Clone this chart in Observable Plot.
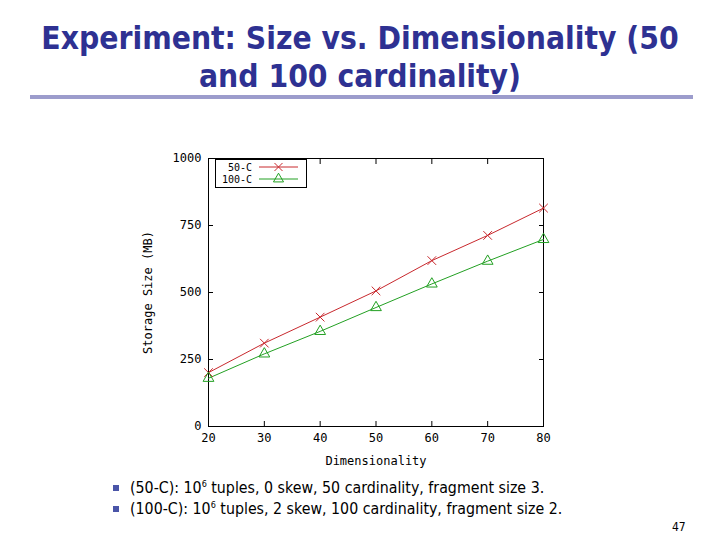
<!DOCTYPE html>
<html><head><meta charset="utf-8">
<script src="https://cdn.jsdelivr.net/npm/d3@7"></script>
<script src="https://cdn.jsdelivr.net/npm/@observablehq/plot@0.6"></script>
<style>
body{margin:0;width:720px;height:540px;background:#fff;position:relative;overflow:hidden;font-family:"DejaVu Sans Condensed","DejaVu Sans",sans-serif}
#title{position:absolute;left:0;top:19px;width:720px;text-align:center;color:#2E3192;font-weight:bold;font-size:31.5px;line-height:38px}
#rule{position:absolute;left:30px;top:95px;width:663px;height:4px;background:#9c9ccc}
#chart{position:absolute;left:130px;top:145px}
#legend{position:absolute;left:215px;top:159px}
.bullets{position:absolute;left:113px;top:477px;font-size:15.8px;color:#000;line-height:21px}
.bullets div{position:relative;padding-left:17px}
.bullets div::before{content:"";position:absolute;left:0;top:8px;width:6px;height:6px;background:#4a55a8}
#page{position:absolute;left:672px;top:520px;font-size:12px;color:#000}
sup{font-size:9px;vertical-align:6px;line-height:0}
</style></head>
<body>
<div id="title">Experiment: Size vs. Dimensionality (50<br>and 100 cardinality)</div>
<div id="rule"></div>
<div id="chart"></div>
<svg id="legend" width="93" height="30"></svg>
<div class="bullets">
<div>(50-C): 10<sup>6</sup> tuples, 0 skew, 50 cardinality, fragment size 3.</div>
<div>(100-C): 10<sup>6</sup> tuples, 2 skew, 100 cardinality, fragment size 2.</div>
</div>
<div id="page">47</div>
<script>
const dims = [20, 30, 40, 50, 60, 70, 80];
const size50 = [201, 311, 408, 506, 619, 713, 815];
const size100 = [180, 271, 355, 444, 532, 617, 698];
const seriesNames = ["50-C", "100-C"];
const seriesColors = ["#c8282d", "#22a022"];
const seriesSymbols = ["times", "triangle"];
const xTicks = [20, 30, 40, 50, 60, 70, 80];
const yTicks = [0, 250, 500, 750, 1000];

const rows = [];
dims.forEach((d, i) => {
  rows.push({dim: d, size: size50[i], series: seriesNames[0]});
});
dims.forEach((d, i) => {
  rows.push({dim: d, size: size100[i], series: seriesNames[1]});
});

const blank = () => "";
const chart = Plot.plot({
  width: 430, height: 330,
  marginLeft: 78, marginRight: 17, marginTop: 13, marginBottom: 49,
  style: {fontFamily: "'DejaVu Sans Mono', monospace", fontSize: "12px", color: "#000", background: "transparent"},
  x: {domain: [20, 80]},
  y: {domain: [0, 1000]},
  color: {domain: seriesNames, range: seriesColors},
  symbol: {domain: seriesNames, range: seriesSymbols},
  marks: [
    Plot.frame({stroke: "#000"}),
    Plot.axisX(xTicks, {tickSize: 0, tickPadding: 7, tickFormat: d3.format("d"), label: "Dimensionality", labelAnchor: "center", labelOffset: 38, labelArrow: "none"}),
    Plot.axisX(xTicks, {tickSize: -5, tickFormat: blank, label: null}),
    Plot.axisX(xTicks, {anchor: "top", tickSize: -5, tickFormat: blank, label: null}),
    Plot.axisY(yTicks, {tickSize: 0, tickPadding: 7, tickFormat: d3.format("d"), label: "Storage Size (MB)", labelAnchor: "center", labelOffset: 65, labelArrow: "none"}),
    Plot.axisY(yTicks, {tickSize: -5, tickFormat: blank, label: null}),
    Plot.axisY(yTicks, {anchor: "right", tickSize: -5, tickFormat: blank, label: null}),
    Plot.line(rows, {x: "dim", y: "size", stroke: "series", z: "series", strokeWidth: 1}),
    Plot.dot(rows, {x: "dim", y: "size", stroke: "series", symbol: "series", r: 4, strokeWidth: 1})
  ]
});
document.getElementById("chart").appendChild(chart);

// legend
const leg = d3.select("#legend");
leg.append("rect").attr("x", 0.5).attr("y", 0.5).attr("width", 91).attr("height", 28)
  .attr("fill", "#fff").attr("stroke", "#000");
const symMap = {times: d3.symbolTimes, triangle: d3.symbolTriangle};
seriesNames.forEach((name, i) => {
  const cy = 8 + i * 12;
  leg.append("text").attr("x", 37).attr("y", cy).attr("dy", "0.35em").attr("text-anchor", "end")
    .attr("font-family", "'DejaVu Sans Mono', monospace").attr("font-size", 10).text(name);
  leg.append("line").attr("x1", 44).attr("x2", 83).attr("y1", cy).attr("y2", cy)
    .attr("stroke", seriesColors[i]).attr("stroke-width", 1);
  leg.append("path").attr("transform", `translate(63.5,${cy})`)
    .attr("d", d3.symbol(symMap[seriesSymbols[i]], 14 * Math.PI)())
    .attr("fill", "none").attr("stroke", seriesColors[i]);
});
</script>
</body></html>
